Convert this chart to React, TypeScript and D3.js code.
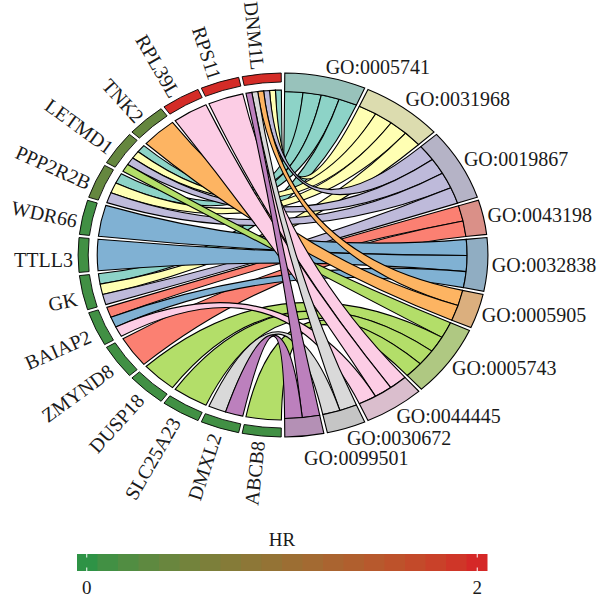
import React from 'react';
import * as d3 from 'd3';

// Genes in clockwise order, starting at the bottom (6 o'clock) going up the left side
const genes = ['ABCB8', 'DMXL2', 'SLC25A23', 'DUSP18', 'ZMYND8', 'BAIAP2', 'GK', 'TTLL3', 'WDR66', 'PPP2R2B', 'LETMD1', 'TNK2', 'RPL39L', 'RPS11', 'DNM1L'];
const geneHR = [0.1, 0.1, 0.1, 0.1, 0.1, 0.1, 0.1, 0.1, 0.1, 0.38, 0.38, 0.38, 1.97, 1.97, 1.97];

// GO terms, clockwise from 12 o'clock down the right side
const terms = ['GO:0005741', 'GO:0031968', 'GO:0019867', 'GO:0043198', 'GO:0032838', 'GO:0005905', 'GO:0005743', 'GO:0044445', 'GO:0030672', 'GO:0099501'];
const termColors = ['#8DD3C7', '#FFFFB3', '#BEBADA', '#FB8072', '#80B1D3', '#FDB462', '#B3DE69', '#FCCDE5', '#D9D9D9', '#BC80BD'];

// term membership for each gene (indices into terms)
const geneTerms: number[][] = [
  [6],             // ABCB8
  [8, 9],          // DMXL2
  [6],             // SLC25A23
  [6],             // DUSP18
  [3],             // ZMYND8
  [3, 4, 7],       // BAIAP2
  [0, 1, 2],       // GK
  [4],             // TTLL3
  [4],             // WDR66
  [0, 1, 2],       // PPP2R2B
  [0, 1, 2, 6],    // LETMD1
  [5],             // TNK2
  [7],             // RPL39L
  [7],             // RPS11
  [0, 1, 2, 5, 8, 9], // DNM1L
];

const hrDomain = [-0.05, 2.05];
const hrTicks = [0, 2];
const hrLow = '#1f9447';
const hrHigh = '#d81e26';

const FONT = "'Liberation Serif', 'DejaVu Serif', serif";
const CX = 283, CY = 255, SX = 1.126;
const R_OUT = 182, GENE_IN = 173, GENE_RIB = 165, TERM_IN = 163.5;
const PAD = 1.0;

const rad = (d: number) => (d * Math.PI) / 180;

export default function App() {
  const color = d3.scaleSequential(d3.interpolateLab(hrLow, hrHigh)).domain(hrDomain as [number, number]);
  const nGenes = genes.length;
  const geneStep = 180 / nGenes;
  const geneArcs = genes.map((_, i) => ({ start: 180 + i * geneStep, end: 180 + (i + 1) * geneStep }));

  const termGenes = terms.map((_, k) =>
    genes.map((__, i) => i).filter((i) => geneTerms[i].includes(k)).sort((a, b) => b - a)
  );
  const totalRib = termGenes.reduce((s, a) => s + a.length, 0);
  const ribStep = 180 / totalRib;
  let cum = 0;
  const termArcs = termGenes.map((list) => {
    const s = cum * ribStep;
    cum += list.length;
    return { start: s, end: cum * ribStep };
  });

  const ribbons: any[] = [];
  geneTerms.forEach((tl, i) => {
    const sorted = [...tl].sort((a, b) => b - a);
    const a0 = geneArcs[i].start + PAD / 2;
    const a1 = geneArcs[i].end - PAD / 2;
    const w = (a1 - a0) / sorted.length;
    sorted.forEach((k, j) => {
      const list = termGenes[k];
      const pos = list.indexOf(i);
      const b0 = termArcs[k].start + PAD / 2;
      const b1 = termArcs[k].end - PAD / 2;
      const tw = (b1 - b0) / list.length;
      ribbons.push({
        gene: i,
        term: k,
        source: { startAngle: rad(a0 + j * w), endAngle: rad(a0 + (j + 1) * w), radius: GENE_RIB },
        target: { startAngle: rad(b0 + pos * tw), endAngle: rad(b0 + (pos + 1) * tw), radius: TERM_IN },
      });
    });
  });
  ribbons.sort((a, b) => a.term - b.term || b.gene - a.gene);

  const ribbonGen = d3.ribbon<any, any>();
  const arcGen = d3.arc<any>();

  const termSegColor = (c: string) => d3.interpolateRgb(c, '#a8a8a8')(0.4);

  // gene labels
  const geneLabels = genes.map((g, i) => {
    const th = (geneArcs[i].start + geneArcs[i].end) / 2;
    const rot = th - 270;
    const r = R_OUT * 1.025;
    const x = CX + SX * r * Math.sin(rad(th)) - 3 * Math.abs(Math.sin(rad(rot)));
    const y = CY - r * Math.cos(rad(th)) + 5 * Math.abs(Math.cos(rad(rot)));
    return { g, x, y, rot };
  });

  // term labels with simple collision push
  let prevY = -Infinity;
  const termLabels = terms.map((t, k) => {
    const th = (termArcs[k].start + termArcs[k].end) / 2;
    const r = R_OUT * 1.025;
    const x = CX + SX * r * Math.sin(rad(th)) - 1;
    let y = CY - r * Math.cos(rad(th)) - 6 * Math.cos(rad(th));
    if (y < prevY + 20) y = prevY + 20;
    prevY = y;
    return { t, x, y };
  });

  // legend
  const barX0 = 77, barX1 = 487, barY = 554, barH = 17;
  const lx = d3.scaleLinear().domain(hrDomain).range([barX0, barX1]);
  const nBins = 20;
  const bins = d3.range(nBins).map((b) => {
    const v0 = hrDomain[0] + ((hrDomain[1] - hrDomain[0]) * b) / nBins;
    const v1 = hrDomain[0] + ((hrDomain[1] - hrDomain[0]) * (b + 1)) / nBins;
    return { x: lx(v0), w: lx(v1) - lx(v0) + 0.5, c: color((v0 + v1) / 2) };
  });

  return (
    <svg width={600} height={601} style={{ position: 'absolute', left: 0, top: 0, background: '#fff' }} fontFamily={FONT}>
      <rect x={0} y={0} width={600} height={601} fill="#fff" />
      <g transform={`translate(${CX},${CY}) scale(${SX},1)`}>
        {ribbons.map((r, idx) => (
          <path
            key={idx}
            d={ribbonGen(r) as any}
            fill={termColors[r.term]}
            stroke="#000"
            strokeWidth={1.1}
            vectorEffect="non-scaling-stroke"
          />
        ))}
        {geneArcs.map((a, i) => (
          <path
            key={'g' + i}
            d={arcGen({ innerRadius: GENE_IN, outerRadius: R_OUT, startAngle: rad(a.start + PAD / 2), endAngle: rad(a.end - PAD / 2) }) as string}
            fill={color(geneHR[i])}
            stroke="#000"
            strokeWidth={0.9}
            vectorEffect="non-scaling-stroke"
          />
        ))}
        {termArcs.map((a, k) => (
          <path
            key={'t' + k}
            d={arcGen({ innerRadius: TERM_IN, outerRadius: R_OUT, startAngle: rad(a.start + PAD / 2), endAngle: rad(a.end - PAD / 2) }) as string}
            fill={termSegColor(termColors[k])}
            stroke="#000"
            strokeWidth={1.1}
            vectorEffect="non-scaling-stroke"
          />
        ))}
      </g>
      {geneLabels.map((l) => (
        <text
          key={l.g}
          transform={`translate(${l.x},${l.y}) rotate(${l.rot})`}
          textAnchor="end"
          dominantBaseline="central"
          fontSize={20}
          fill="#1a1a1a"
        >
          {l.g}
        </text>
      ))}
      {termLabels.map((l) => (
        <text key={l.t} x={l.x} y={l.y} textAnchor="start" dominantBaseline="central" fontSize={20} fill="#1a1a1a">
          {l.t}
        </text>
      ))}
      <text x={(barX0 + barX1) / 2} y={546} textAnchor="middle" fontSize={19} fill="#1a1a1a">HR</text>
      {bins.map((b, i) => (
        <rect key={'b' + i} x={b.x} y={barY} width={b.w} height={barH} fill={b.c} />
      ))}
      {hrTicks.map((t) => (
        <g key={'tk' + t}>
          <line x1={lx(t)} x2={lx(t)} y1={barY} y2={barY + 3.5} stroke="#fff" strokeWidth={1} />
          <line x1={lx(t)} x2={lx(t)} y1={barY + barH - 3.5} y2={barY + barH} stroke="#fff" strokeWidth={1} />
          <text x={lx(t)} y={594} textAnchor="middle" fontSize={19} fill="#1a1a1a">{t}</text>
        </g>
      ))}
    </svg>
  );
}
